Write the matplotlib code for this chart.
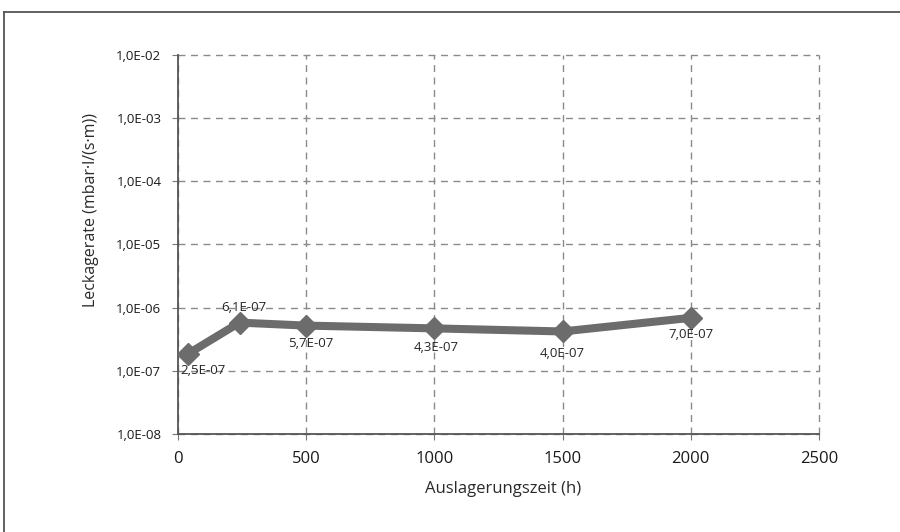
import matplotlib
matplotlib.use("Agg")
import matplotlib.pyplot as plt
from matplotlib.lines import Line2D
from matplotlib.ticker import FixedLocator, FixedFormatter, NullLocator

# values
hours = [40, 240, 500, 1000, 1500, 2000]
leak_rate = [1.87e-7, 5.8e-7, 5.2e-7, 4.7e-7, 4.2e-7, 6.9e-7]
point_labels = ["2,5E-07", "6,1E-07", "5,7E-07", "4,3E-07", "4,0E-07", "7,0E-07"]
label_offsets = [(-6, -12), (3, 11), (3, -13), (1, -14), (0, -16), (0, -12)]
label_ha = ["left", "center", "center", "center", "center", "center"]

y_ticks = [1e-8, 1e-7, 1e-6, 1e-5, 1e-4, 1e-3, 1e-2]
y_tick_labels = ["1,0E-08", "1,0E-07", "1,0E-06", "1,0E-05", "1,0E-04", "1,0E-03", "1,0E-02"]
x_ticks = [0, 500, 1000, 1500, 2000, 2500]
x_tick_labels = ["0", "500", "1000", "1500", "2000", "2500"]

plt.rcParams['font.family'] = ['Open Sans', 'DejaVu Sans']

fig = plt.figure(figsize=(9, 5.32), dpi=100)
ax = fig.add_axes([178 / 900, 1 - 434 / 532, (819 - 178) / 900, (434 - 55) / 532])

ax.plot(hours, leak_rate, color='#6c6c6c', lw=5.8, marker='D', markersize=11,
        markerfacecolor='#6c6c6c', markeredgecolor='#6c6c6c', zorder=3)

for x, y, txt, off, ha in zip(hours, leak_rate, point_labels, label_offsets, label_ha):
    ax.annotate(txt, (x, y), xytext=off, textcoords='offset points',
                ha=ha, va='center', fontsize=9.5, color='#262626', zorder=4)

ax.set_yscale('log')
ax.set_xlim(0, 2500)
ax.set_ylim(1e-8, 1e-2)
ax.yaxis.set_major_locator(FixedLocator(y_ticks))
ax.yaxis.set_major_formatter(FixedFormatter(y_tick_labels))
ax.yaxis.set_minor_locator(NullLocator())
ax.xaxis.set_major_locator(FixedLocator(x_ticks))
ax.xaxis.set_major_formatter(FixedFormatter(x_tick_labels))

ax.tick_params(axis='y', labelsize=9.5, length=4, color='#777777', labelcolor='#1a1a1a', pad=8)
ax.tick_params(axis='x', labelsize=12, length=4, color='#777777', labelcolor='#1a1a1a', pad=8)

ax.grid(True, which='major', color='#8a8a8a', lw=1.0, linestyle=(0, (5, 4)))
for gl in ax.get_xgridlines() + ax.get_ygridlines():
    gl.set_clip_on(False)

for side in ['top', 'right']:
    ax.spines[side].set_visible(False)
for side in ['left', 'bottom']:
    ax.spines[side].set_color('#555555')
    ax.spines[side].set_linewidth(1.3)

ax.set_xlabel('Auslagerungszeit (h)', fontsize=12, color='#2a2a2a')
ax.set_ylabel('Leckagerate (mbar·l/(s·m))', fontsize=11.5, color='#2a2a2a')
ax.xaxis.set_label_coords(0.507, -0.125)
ax.yaxis.set_label_coords(-0.124, 0.59)

# outer frame (only top and left edges are visible)
fig.add_artist(Line2D([4 / 900, 4 / 900], [0, 1 - 12 / 532], transform=fig.transFigure,
                      color='#555555', lw=1.3))
fig.add_artist(Line2D([4 / 900, 1], [1 - 12 / 532, 1 - 12 / 532], transform=fig.transFigure,
                      color='#555555', lw=1.3))

fig.savefig('out.png', dpi=100, facecolor='white')
